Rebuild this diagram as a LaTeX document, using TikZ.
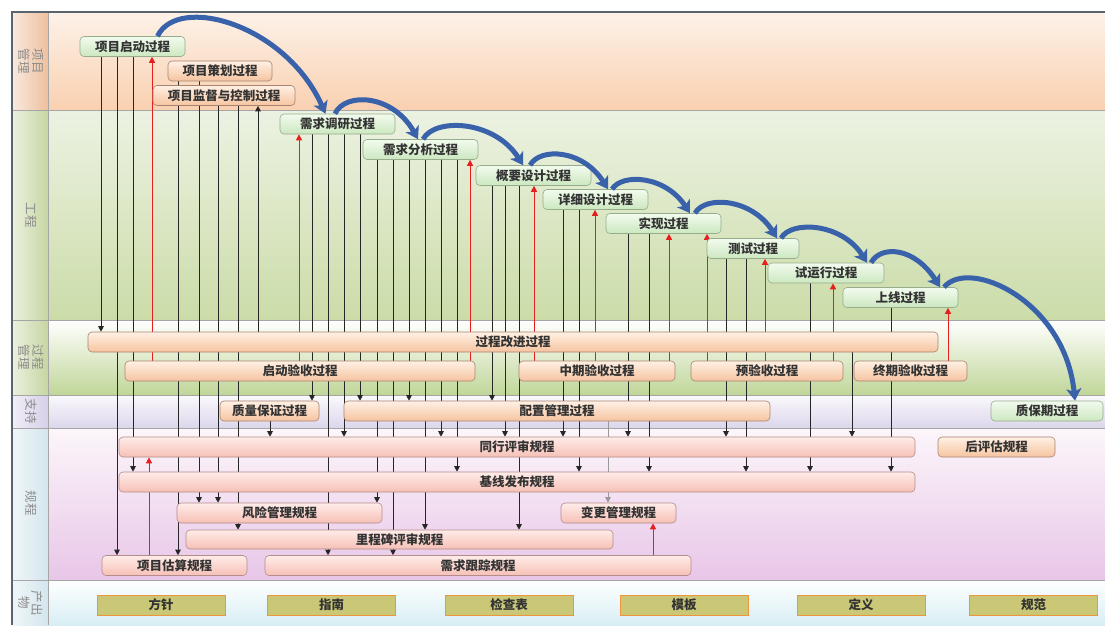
\documentclass[tikz,border=0pt]{standalone}
\usepackage{fontspec}
\setmainfont{Noto Sans CJK SC}
\usepackage{tikz}
\usetikzlibrary{arrows.meta}
\definecolor{pmtop}{RGB}{253,242,232}
\definecolor{pmbot}{RGB}{249,208,176}
\definecolor{pmside}{RGB}{238,192,158}
\definecolor{engtop}{RGB}{236,242,226}
\definecolor{engbot}{RGB}{203,220,168}
\definecolor{engside}{RGB}{198,214,162}
\definecolor{mgtbot}{RGB}{192,214,152}
\definecolor{suptop}{RGB}{250,249,252}
\definecolor{supbot}{RGB}{220,214,236}
\definecolor{supside}{RGB}{214,208,232}
\definecolor{rultop}{RGB}{252,246,250}
\definecolor{rulbot}{RGB}{232,198,232}
\definecolor{outbot}{RGB}{215,238,244}
\definecolor{coolside}{RGB}{212,230,238}
\definecolor{greentop}{RGB}{242,251,238}
\definecolor{greenbot}{RGB}{204,232,192}
\definecolor{greenedge}{RGB}{150,172,140}
\definecolor{orangetop}{RGB}{255,240,228}
\definecolor{orangebot}{RGB}{246,196,160}
\definecolor{orangeedge}{RGB}{168,132,112}
\definecolor{pinktop}{RGB}{255,236,232}
\definecolor{pinkbot}{RGB}{246,192,182}
\definecolor{pinkedge}{RGB}{180,140,138}
\definecolor{prodfill}{RGB}{202,200,118}
\definecolor{prodedge}{RGB}{238,150,60}
\definecolor{backred}{RGB}{232,30,30}
\definecolor{swoopblue}{RGB}{58,98,170}
\definecolor{frame}{RGB}{90,100,110}
\pgfdeclarelayer{bg}
\pgfdeclarelayer{wires}
\pgfsetlayers{bg,wires,main}
\tikzset{
  wire/.style={black!85,line width=0.7pt,-{Triangle[length=5.5pt,width=5.5pt]}},
  faint/.style={wire,draw=black!40},
  back/.style={backred,line width=0.7pt,-{Triangle[length=6pt,width=6pt]}},
  swoop/.style={draw=swoopblue,line width=5pt,-{Stealth[length=12pt,width=15pt,inset=3pt]}},
  box/.style={rounded corners=4pt,line width=0.6pt,minimum height=20pt,inner sep=1pt,
              font=\fontsize{12.5}{14}\selectfont\bfseries,text=black!80},
  eng/.style={box,draw=greenedge,top color=greentop,bottom color=greenbot},
  proc/.style={box,draw=orangeedge,top color=orangetop,bottom color=orangebot},
  rule/.style={box,draw=pinkedge,top color=pinktop,bottom color=pinkbot},
  prod/.style={draw=prodedge,fill=prodfill,line width=1pt,minimum height=20pt,
               minimum width=128pt,font=\fontsize{12.5}{14}\selectfont\bfseries,text=black!80},
  lanelab/.style={rotate=-90,align=center,font=\fontsize{12.5}{13.5}\selectfont,text=black!45},
  lane/.style={draw=black!35,line width=0.6pt},
}

\begin{document}
\begin{tikzpicture}[x=1pt,y=-1pt]
  \path[use as bounding box] (0,0) rectangle (1105,625);

  \node[lanelab] (l1) at (31,61) {项目\\管理};
  \node[lanelab] (l2) at (31,215) {工程};
  \node[lanelab] (l3) at (31,357) {过程\\管理};
  \node[lanelab] (l4) at (31,411) {支持};
  \node[lanelab] (l5) at (31,503) {规程};
  \node[lanelab] (l6) at (31,603) {产出\\物};

  \node[eng,minimum width=105pt] (qd) at (132.5,46.5) {项目启动过程};
  \node[proc,minimum width=104pt] (ch) at (220,71) {项目策划过程};
  \node[proc,minimum width=142pt] (jk) at (224,95.5) {项目监督与控制过程};
  \node[eng,minimum width=115pt] (dy) at (337.5,124) {需求调研过程};
  \node[eng,minimum width=115pt] (fx) at (420.5,149.5) {需求分析过程};
  \node[eng,minimum width=115pt] (gy) at (533.5,175.5) {概要设计过程};
  \node[eng,minimum width=105pt] (xx) at (595.5,199.5) {详细设计过程};
  \node[eng,minimum width=115pt] (sx) at (663.5,223.5) {实现过程};
  \node[eng,minimum width=92pt] (cs) at (753,248.5) {测试过程};
  \node[eng,minimum width=116pt] (sy) at (826,273) {试运行过程};
  \node[eng,minimum width=115pt] (sxian) at (900.5,297.5) {上线过程};

  \node[proc,minimum width=850pt] (gj) at (513,342) {过程改进过程};
  \node[proc,minimum width=350pt] (qys) at (300,371) {启动验收过程};
  \node[proc,minimum width=156pt] (zys) at (597,371) {中期验收过程};
  \node[proc,minimum width=152pt] (yys) at (767,371) {预验收过程};
  \node[proc,minimum width=113pt] (zqys) at (910.5,371) {终期验收过程};

  \node[proc,minimum width=99pt] (zb) at (269.5,411) {质量保证过程};
  \node[proc,minimum width=426pt] (pz) at (557,411) {配置管理过程};
  \node[eng,minimum width=112pt] (zbq) at (1047,411) {质保期过程};

  \node[rule,minimum width=796pt] (tp) at (517,447) {同行评审规程};
  \node[proc,minimum width=117pt] (hpg) at (996.5,447) {后评估规程};
  \node[rule,minimum width=796pt] (jx) at (517,482) {基线发布规程};
  \node[rule,minimum width=205pt] (fxgl) at (279.5,513) {风险管理规程};
  \node[rule,minimum width=115pt] (bg) at (618.5,513) {变更管理规程};
  \node[rule,minimum width=427pt,minimum height=19pt] (lcb) at (399.5,539.5) {里程碑评审规程};
  \node[rule,minimum width=145pt] (gs) at (174.5,565.5) {项目估算规程};
  \node[rule,minimum width=426pt] (gz) at (478,565.5) {需求跟踪规程};

  \node[prod] (o1) at (161,605) {方针};
  \node[prod] (o2) at (331.5,605) {指南};
  \node[prod] (o3) at (509,605) {检查表};
  \node[prod] (o4) at (684,605) {模板};
  \node[prod] (o5) at (861,605) {定义};
  \node[prod] (o6) at (1033.5,605) {规范};

  \begin{pgfonlayer}{bg}
    \fill[white] (0,0) rectangle (1105,625);
    \shade[top color=pmtop,bottom color=pmbot] (48,12) rectangle (1105,110);
    \shade[top color=engtop,bottom color=engbot] (48,110) rectangle (1105,320);
    \shade[top color=white,bottom color=mgtbot] (48,320) rectangle (1105,395);
    \shade[top color=suptop,bottom color=supbot] (48,395) rectangle (1105,428);
    \shade[top color=rultop,bottom color=rulbot] (48,428) rectangle (1105,580);
    \shade[top color=white,bottom color=outbot] (48,580) rectangle (1105,625);
    \shade[left color=pmside!35!white,right color=pmside] (12,12) rectangle (48,110);
    \shade[left color=engside!35!white,right color=engside] (12,110) rectangle (48,320);
    \shade[left color=engside!35!white,right color=engside] (12,320) rectangle (48,395);
    \shade[left color=supside!35!white,right color=supside] (12,395) rectangle (48,428);
    \shade[left color=coolside!35!white,right color=coolside] (12,428) rectangle (48,580);
    \shade[left color=coolside!35!white,right color=coolside] (12,580) rectangle (48,625);
    \draw[lane] (12,110) -- (1105,110) (12,320) -- (1105,320) (12,395) -- (1105,395)
      (12,428) -- (1105,428) (12,580) -- (1105,580) (48,12) -- (48,625);
    \draw[frame,line width=1.2pt] (12,625) -- (12,12) -- (1105,12);
  \end{pgfonlayer}

  \begin{pgfonlayer}{wires}
    \draw[wire] (qd.south -| 101,0) -- (gj.north -| 101,0);
    \draw[wire] (qd.south -| 117,0) -- (gs.north -| 117,0);
    \draw[wire] (qd.south -| 133,0) -- (jx.north -| 133,0);
    \draw[back] (qys.north -| 152,0) -- (qd.south -| 152,0);
    \draw[back] (gs.north -| 149,0) -- (tp.south -| 149,0);
    \draw[wire] (ch.south -| 178,0) -- (gs.north -| 178,0);
    \draw[wire] (ch.south -| 199,0) -- (fxgl.north -| 199,0);
    \draw[wire] (jk.south -| 218,0) -- (fxgl.north -| 218,0);
    \draw[wire] (jk.south -| 238,0) -- (lcb.north -| 238,0);
    \draw[wire] (gj.north -| 258,0) -- (jk.south -| 258,0);
    \draw[wire] (zb.south -| 270,0) -- (tp.north -| 270,0);
    \draw[back] (qys.north -| 299,0) -- (dy.south -| 299,0);
    \draw[wire] (dy.south -| 312,0) -- (zb.north -| 312,0);
    \draw[wire] (dy.south -| 328,0) -- (gz.north -| 328,0);
    \draw[wire] (dy.south -| 344,0) -- (tp.north -| 344,0);
    \draw[wire] (dy.south -| 360,0) -- (pz.north -| 360,0);
    \draw[wire] (fx.south -| 377,0) -- (fxgl.north -| 377,0);
    \draw[wire] (fx.south -| 393,0) -- (gz.north -| 393,0);
    \draw[wire] (fx.south -| 409,0) -- (pz.north -| 409,0);
    \draw[wire] (fx.south -| 425,0) -- (lcb.north -| 425,0);
    \draw[wire] (fx.south -| 441,0) -- (tp.north -| 441,0);
    \draw[wire] (fx.south -| 457,0) -- (jx.north -| 457,0);
    \draw[back] (qys.north -| 470,0) -- (fx.south -| 470,0);
    \draw[wire] (gy.south -| 492,0) -- (pz.north -| 492,0);
    \draw[wire] (gy.south -| 505,0) -- (tp.north -| 505,0);
    \draw[wire] (gy.south -| 519,0) -- (lcb.north -| 519,0);
    \draw[back] (zys.north -| 534,0) -- (gy.south -| 534,0);
    \draw[wire] (xx.south -| 563,0) -- (tp.north -| 563,0);
    \draw[wire] (xx.south -| 579,0) -- (jx.north -| 579,0);
    \draw[back] (zys.north -| 595,0) -- (xx.south -| 595,0);
    \draw[faint] (pz.south -| 608,0) -- (bg.north -| 608,0);
    \draw[wire] (sx.south -| 628,0) -- (tp.north -| 628,0);
    \draw[wire] (sx.south -| 649,0) -- (jx.north -| 649,0);
    \draw[back] (gz.north -| 653,0) -- (bg.south -| 653,0);
    \draw[back] (zys.north -| 669,0) -- (sx.south -| 669,0);
    \draw[back] (yys.north -| 707,0) -- (sx.south -| 707,0);
    \draw[wire] (cs.south -| 726,0) -- (tp.north -| 726,0);
    \draw[wire] (cs.south -| 746,0) -- (jx.north -| 746,0);
    \draw[back] (yys.north -| 765,0) -- (cs.south -| 765,0);
    \draw[wire] (sy.south -| 810,0) -- (jx.north -| 810,0);
    \draw[back] (yys.north -| 833,0) -- (sy.south -| 833,0);
    \draw[wire] (gj.south -| 852,0) -- (tp.north -| 852,0);
    \draw[wire] (sxian.south -| 891,0) -- (jx.north -| 891,0);
    \draw[back] (zqys.north -| 948,0) -- (sxian.south -| 948,0);
  \end{pgfonlayer}

  \draw[swoop] ([xshift=25pt]qd.north) .. controls +(20,-42) and +(-40,-90) .. ([xshift=-12pt]dy.north);
  \draw[swoop] ([xshift=-2.5pt]dy.north) .. controls +(10,-22) and +(-25,-45) .. ([xshift=-2.5pt]fx.north);
  \draw[swoop] ([xshift=2.5pt]fx.north) .. controls +(12,-22) and +(-28,-45) .. ([xshift=-10.5pt]gy.north);
  \draw[swoop] ([xshift=-3.5pt]gy.north) .. controls +(10,-18) and +(-25,-40) .. ([xshift=12.5pt]xx.north);
  \draw[swoop] ([xshift=16.5pt]xx.north) .. controls +(10,-16) and +(-25,-38) .. ([xshift=26.5pt]sx.north);
  \draw[swoop] ([xshift=31.5pt]sx.north) .. controls +(10,-18) and +(-25,-40) .. ([xshift=24pt]cs.north);
  \draw[swoop] ([xshift=28pt]cs.north) .. controls +(10,-18) and +(-25,-40) .. ([xshift=41pt]sy.north);
  \draw[swoop] ([xshift=45pt]sy.north) .. controls +(10,-18) and +(-25,-40) .. ([xshift=39.5pt]sxian.north);
  \draw[swoop] ([xshift=43.5pt]sxian.north) .. controls +(25,-30) and +(-10,-100) .. ([xshift=28pt]zbq.north);
\end{tikzpicture}
\end{document}
